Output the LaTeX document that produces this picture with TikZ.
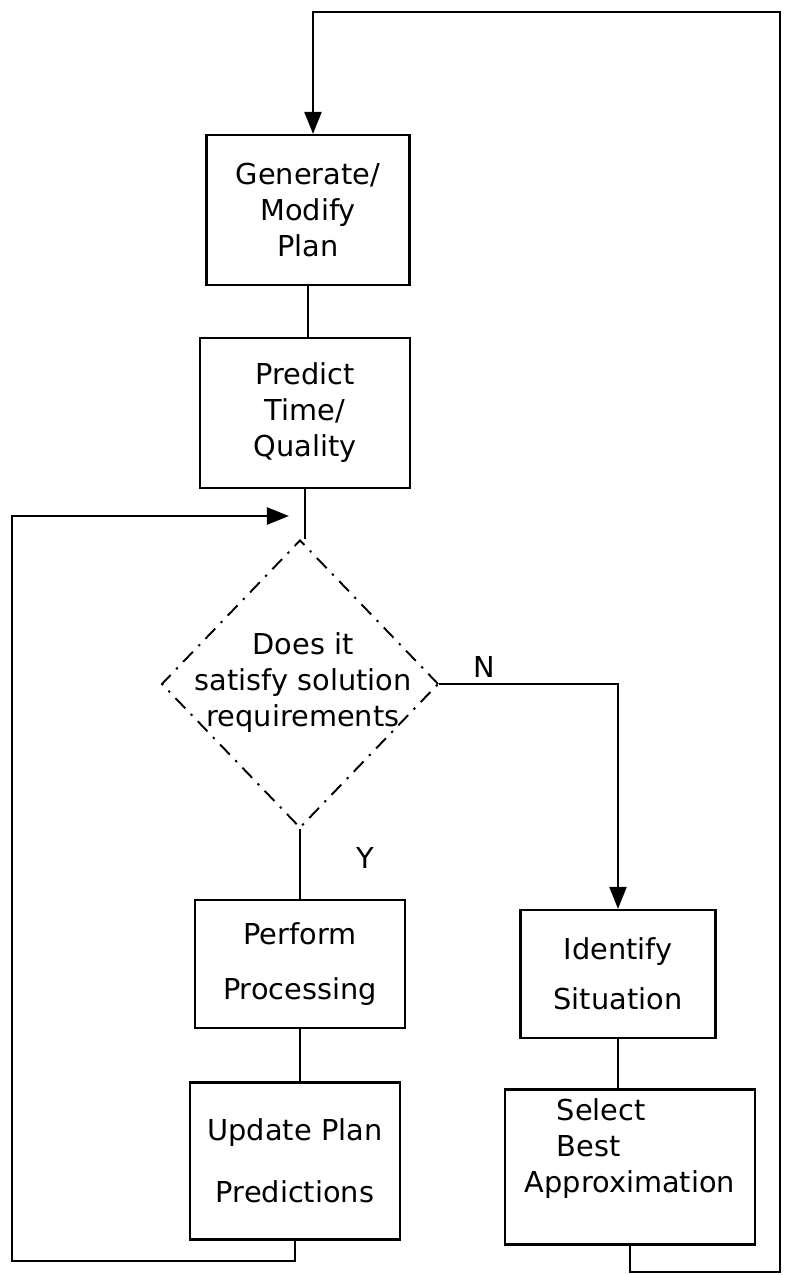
\documentclass[tikz,border=0pt]{standalone}
\usepackage{fontspec}
\setsansfont{DejaVu Sans}
\usetikzlibrary{arrows.meta,positioning,shapes.geometric,calc}

\begin{document}
\begin{tikzpicture}[
  x=0.02cm, y=-0.02cm, line width=1.3pt,
  >={Triangle[length=0.44cm,width=0.34cm]},
  box/.style={rectangle, draw, align=center, inner sep=2pt,
    font=\sffamily\fontsize{16.4}{20.5}\selectfont},
  decision/.style={diamond, draw, inner sep=0pt, line width=1.1pt,
    dash pattern=on 8pt off 4.5pt on 1.3pt off 4.5pt},
  lbl/.style={font=\sffamily\fontsize{16.4}{20.5}\selectfont},
]
\useasboundingbox (0,0) rectangle (790,1275);

% main column
\node[box, minimum width=4.06cm, minimum height=3cm] (gen) at (308,210) {Generate/\\Modify\\Plan};
\node[box, minimum width=4.2cm, minimum height=3cm] (pred) at (305,413) {Predict\\Time/\\Quality};
\node[decision, minimum width=5.54cm, minimum height=5.76cm] (dec) at (300,684) {};
\node[lbl, align=center] (ask) at (303,683) {Does it\\satisfy solution\\requirements};
\node[box, minimum width=4.2cm, minimum height=2.56cm] (perf) at (300,964) {Perform\\[11pt]Processing};
\node[box, minimum width=4.2cm, minimum height=3.14cm] (upd) at (295,1161) {Update Plan\\[15pt]Predictions};

% right branch
\node[box, minimum width=3.9cm, minimum height=2.56cm] (ident) at (618,974) {Identify\\[8pt]Situation};
\node[box, align=left, minimum width=5cm, minimum height=3.1cm, text depth=0.85cm] (sel) at (630,1167)
  {\hspace*{0.64cm}Select\\\hspace*{0.64cm}Best\\Approximation};

\node[lbl] (no) at (484,667) {N};
\node[lbl] (yes) at (365,858) {Y};

\coordinate (merge) at (303,516);

\draw (gen.south) -- (gen.south |- pred.north);
\draw (pred.south) -- (pred.south |- dec.north);
\draw (dec.south) -- (dec.south |- perf.north);
\draw (perf.south) -- (perf.south |- upd.north);
\draw[->] (dec.east) -| (ident.north);
\draw (ident.south) -- (ident.south |- sel.north);

% loops back
\draw[->, shorten >=8pt] (upd.south) -- ++(0,20) -| (12,516) -- (merge);
\draw[->] (sel.south) -- ++(0,26) -| (780,12) -| ([xshift=0.1cm]gen.north);
\end{tikzpicture}
\end{document}
